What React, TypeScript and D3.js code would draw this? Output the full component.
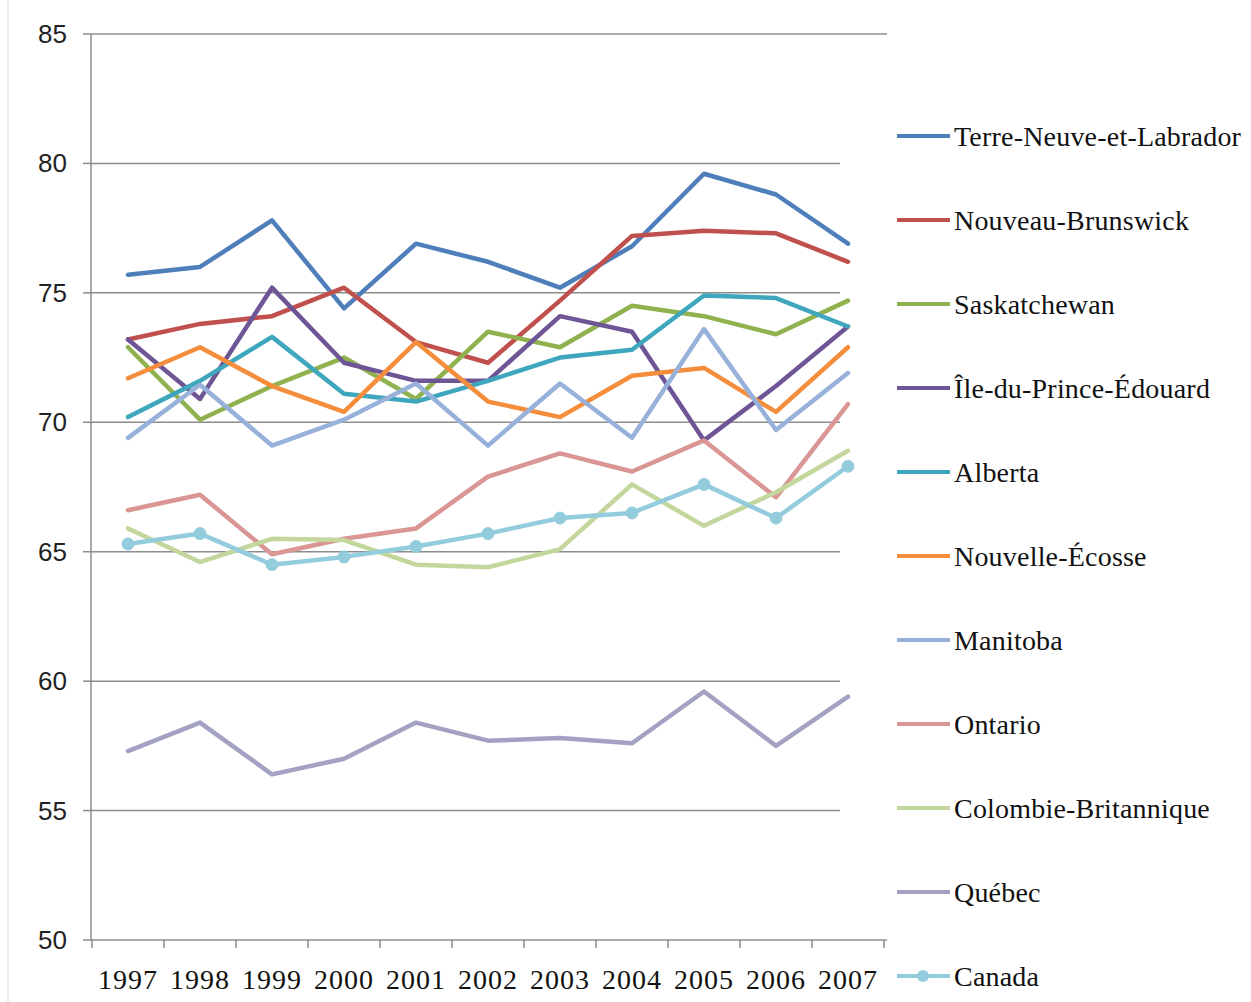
import React from "react";
import * as d3 from "d3";

const years = ["1997","1998","1999","2000","2001","2002","2003","2004","2005","2006","2007"];
const yTicks = [50, 55, 60, 65, 70, 75, 80, 85];

const seriesNames = [
  "Terre-Neuve-et-Labrador",
  "Nouveau-Brunswick",
  "Saskatchewan",
  "Île-du-Prince-Édouard",
  "Alberta",
  "Nouvelle-Écosse",
  "Manitoba",
  "Ontario",
  "Colombie-Britannique",
  "Québec",
  "Canada",
];

const terreNeuve = [75.7, 76.0, 77.8, 74.4, 76.9, 76.2, 75.2, 76.8, 79.6, 78.8, 76.9];
const nouveauBrunswick = [73.2, 73.8, 74.1, 75.2, 73.1, 72.3, 74.7, 77.2, 77.4, 77.3, 76.2];
const saskatchewan = [72.9, 70.1, 71.4, 72.5, 70.9, 73.5, 72.9, 74.5, 74.1, 73.4, 74.7];
const ilePE = [73.2, 70.9, 75.2, 72.3, 71.6, 71.6, 74.1, 73.5, 69.3, 71.4, 73.7];
const alberta = [70.2, 71.6, 73.3, 71.1, 70.8, 71.6, 72.5, 72.8, 74.9, 74.8, 73.7];
const nouvelleEcosse = [71.7, 72.9, 71.4, 70.4, 73.1, 70.8, 70.2, 71.8, 72.1, 70.4, 72.9];
const manitoba = [69.4, 71.45, 69.1, 70.1, 71.5, 69.1, 71.5, 69.4, 73.6, 69.7, 71.9];
const ontario = [66.6, 67.2, 64.9, 65.5, 65.9, 67.9, 68.8, 68.1, 69.3, 67.1, 70.7];
const colombieBritannique = [65.9, 64.6, 65.5, 65.45, 64.5, 64.4, 65.1, 67.6, 66.0, 67.3, 68.9];
const quebec = [57.3, 58.4, 56.4, 57.0, 58.4, 57.7, 57.8, 57.6, 59.6, 57.5, 59.4];
const canada = [65.3, 65.7, 64.5, 64.8, 65.2, 65.7, 66.3, 66.5, 67.6, 66.3, 68.3];

const seriesValues = [
  terreNeuve, nouveauBrunswick, saskatchewan, ilePE, alberta, nouvelleEcosse,
  manitoba, ontario, colombieBritannique, quebec, canada,
];

const colors = [
  "#4F7FBA", "#C0504D", "#8FB24E", "#6E5596", "#3FA7BD", "#F58E3C",
  "#98B1DA", "#D99694", "#C3D69B", "#A3A2C2", "#93CDDD",
];

export default function App() {
  const W = 1251, H = 1002;
  const x = d3.scaleBand<string>().domain(years).range([92, 884]);
  const y = d3.scaleLinear().domain([50, 85]).range([940, 34]);
  const cx = (yr: string) => (x(yr) as number) + x.bandwidth() / 2;
  const line = d3.line<number>()
    .x((_, i) => cx(years[i]))
    .y((v) => y(v));

  const serif = "'Liberation Serif', 'Times New Roman', serif";
  const sans = "'Liberation Sans', Arial, sans-serif";
  const legendY = (i: number) => 136 + i * 84;

  return (
    <svg width={W} height={H} style={{ position: "absolute", left: 0, top: 0, background: "#fff" }}>
      <rect x={0} y={0} width={W} height={H} fill="#fff" />
      <line x1={8} x2={8} y1={0} y2={H} stroke="#e6e6e6" strokeWidth={1.5} />
      {yTicks.filter((t) => t !== 50).map((t) => (
        <line key={"g" + t} x1={91} x2={t === 85 ? 887 : 840} y1={y(t)} y2={y(t)} stroke="#8c8c8c" strokeWidth={1.5} />
      ))}
      {yTicks.map((t) => (
        <g key={"yt" + t}>
          <line x1={83} x2={91} y1={y(t)} y2={y(t)} stroke="#8c8c8c" strokeWidth={1.5} />
          <text x={67} y={y(t) + 9} textAnchor="end" fontFamily={sans} fontSize={26} fill="#222">{t}</text>
        </g>
      ))}
      <line x1={91} x2={91} y1={y(85)} y2={y(50)} stroke="#8c8c8c" strokeWidth={1.5} />
      <line x1={91} x2={887} y1={y(50)} y2={y(50)} stroke="#8c8c8c" strokeWidth={1.5} />
      {years.map((yr) => (
        <line key={"xt" + yr} x1={x(yr) as number} x2={x(yr) as number} y1={y(50)} y2={y(50) + 8} stroke="#8c8c8c" strokeWidth={1.5} />
      ))}
      <line x1={884} x2={884} y1={y(50)} y2={y(50) + 8} stroke="#8c8c8c" strokeWidth={1.5} />
      {years.map((yr) => (
        <text key={"xl" + yr} x={cx(yr)} y={989} textAnchor="middle" fontFamily={serif} fontSize={28} letterSpacing={1} fill="#111">{yr}</text>
      ))}
      {seriesValues.map((vals, i) => (
        <path key={"s" + i} d={line(vals) || ""} fill="none" stroke={colors[i]} strokeWidth={4.5} strokeLinejoin="round" strokeLinecap="round" />
      ))}
      {canada.map((v, i) => (
        <circle key={"c" + i} cx={cx(years[i])} cy={y(v)} r={6} fill={colors[10]} stroke={colors[10]} />
      ))}
      {seriesNames.map((n, i) => (
        <g key={"l" + i}>
          <line x1={897} x2={950} y1={legendY(i)} y2={legendY(i)} stroke={colors[i]} strokeWidth={4} />
          {i === 10 && <circle cx={923} cy={legendY(i)} r={6} fill={colors[i]} />}
          <text x={954} y={legendY(i) + 10} fontFamily={serif} fontSize={28} letterSpacing={0.2} fill="#111">{n}</text>
        </g>
      ))}
    </svg>
  );
}
